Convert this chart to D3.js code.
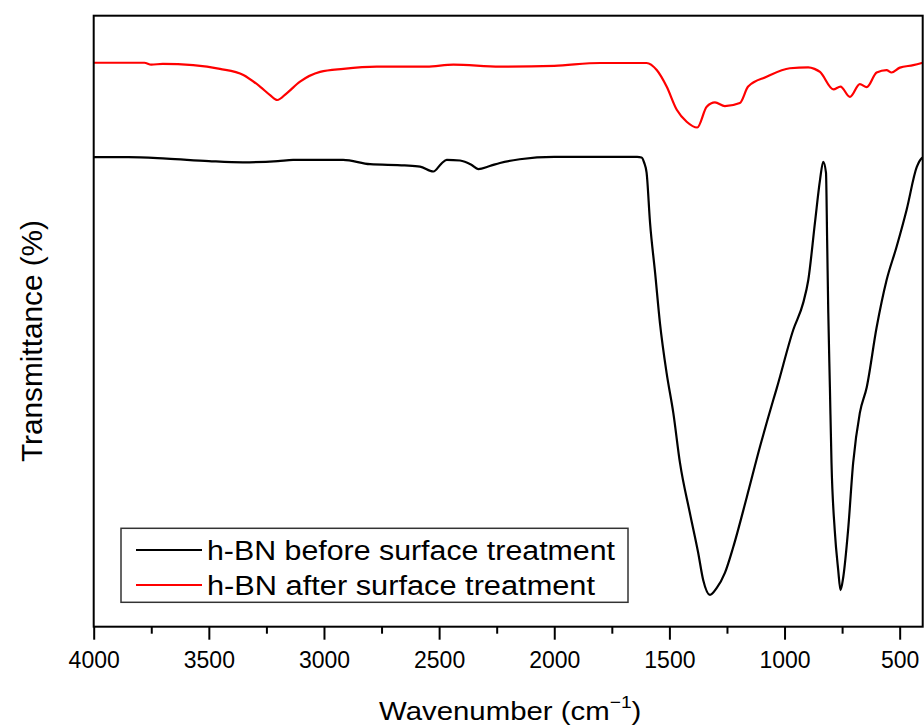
<!DOCTYPE html>
<html><head><meta charset="utf-8">
<script src="https://cdn.jsdelivr.net/npm/d3@7/dist/d3.min.js"></script>
<style>body{margin:0;background:#fff;}svg{display:block;font-family:Arial,"Liberation Sans",sans-serif;}</style>
</head><body>
<script>
// Wavenumber (cm^-1), transmittance (arbitrary %, offset traces)
const beforeWave = [4000,3850,3683,3500,3352,3200,3134,2917,2800,2650,2583,2525,2490,2467,2409,2360,2330,2280,2236,2150,2000,1800,1640,1621,1610,1599,1584,1562,1541,1512,1483,1454,1411,1375,1353,1324,1295,1259,1223,1164,1107,1049,1034,962,919,897,868,846,832,820,815,810,803,796,782,767,757,745,724,702,673,643,600,557,514,470,426,404,400];
const beforeT    = [76.85,76.85,76.6,76.2,76.0,76.2,76.4,76.4,75.7,75.5,75.3,74.5,75.8,76.4,76.3,75.6,74.9,75.4,75.9,76.5,76.9,76.9,76.9,76.8,76.0,74.3,66.1,57.9,49.7,41.5,35.0,26.8,18.6,12.1,7.6,5.2,6.3,8.8,13.0,21.2,29.4,37.1,39.0,48.6,53.0,56.7,66.1,73.1,76.1,74.3,63.3,51.4,39.2,26.8,15.8,9.3,6.0,8.1,15.8,26.8,35.0,39.2,49.0,56.7,62.1,68.2,75.2,76.7,76.8];
const afterWave  = [4000,3780,3750,3700,3568,3452,3350,3278,3234,3203,3162,3104,3017,2916,2771,2554,2438,2236,2000,1800,1599,1555,1512,1468,1425,1379,1338,1302,1259,1194,1158,1078,977,897,870,846,788,757,716,673,643,600,557,535,499,441,400];
const afterT     = [92.3,92.3,92.0,92.1,91.9,91.3,90.3,88.4,87.0,86.2,87.3,89.2,90.8,91.3,91.65,91.65,92.0,91.65,91.8,92.26,92.26,91.1,88.4,84.6,82.65,81.7,85.1,85.8,85.2,85.7,88.4,90.0,91.4,91.55,91.3,90.8,87.95,88.4,86.7,88.8,88.3,90.7,91.1,90.7,91.5,91.9,92.3];
const majorTicks = [4000,3500,3000,2500,2000,1500,1000,500];
const minorTicks = [3750,3250,2750,2250,1750,1250,750];
const seriesNames = ["h-BN before surface treatment","h-BN after surface treatment"];
const seriesColors = ["#000000","#ff0000"];

const W = 924, H = 726;
const L = 93.7, R = 922.7, T = 15.7, B = 626.7;
const svg = d3.select("body").append("svg").attr("width", W).attr("height", H);

const x = d3.scaleLinear().domain([4000, 400]).range([L, R]);
const y = d3.scaleLinear().domain([0, 100]).range([B, T]);

const line = d3.line().x(d => x(d[0])).y(d => y(d[1])).curve(d3.curveMonotoneX);
const series = [
  d3.zip(beforeWave, beforeT),
  d3.zip(afterWave, afterT)
];

svg.append("clipPath").attr("id","c").append("rect")
  .attr("x", L).attr("y", T).attr("width", R - L).attr("height", B - T);

svg.append("g").attr("clip-path","url(#c)").selectAll("path").data(series).join("path")
  .attr("d", line).attr("fill","none")
  .attr("stroke", (d,i) => seriesColors[i]).attr("stroke-width", 2.2)
  .attr("stroke-linejoin","round");

// frame
svg.append("rect").attr("x", L).attr("y", T).attr("width", R - L).attr("height", B - T)
  .attr("fill","none").attr("stroke","#000").attr("stroke-width", 2);

// bottom axis major
const ax = svg.append("g").attr("transform", `translate(0,${B})`)
  .call(d3.axisBottom(x).tickValues(majorTicks).tickSize(13).tickPadding(12).tickFormat(d3.format("d")));
ax.select(".domain").remove();
ax.selectAll(".tick line").attr("stroke","#000").attr("stroke-width",2);
ax.selectAll(".tick text").attr("font-size", 23).attr("fill","#000")
  .attr("font-family","Arial, 'Liberation Sans', sans-serif");
// minor
const axm = svg.append("g").attr("transform", `translate(0,${B})`)
  .call(d3.axisBottom(x).tickValues(minorTicks).tickSize(7).tickFormat(""));
axm.select(".domain").remove();
axm.selectAll(".tick line").attr("stroke","#000").attr("stroke-width",2);

// axis titles
const xt = svg.append("g").attr("transform", `translate(${(L + R) / 2 + 2},720) scale(1.13,1)`)
  .append("text").attr("x", 0).attr("y", 0)
  .attr("text-anchor","middle").attr("font-size", 26).attr("fill","#000");
xt.append("tspan").text("Wavenumber (cm");
xt.append("tspan").attr("dy", -12).attr("font-size", 17).text("\u22121");
xt.append("tspan").attr("dy", 12).text(")");

svg.append("text").attr("transform", `translate(42,341) rotate(-90)`)
  .attr("text-anchor","middle").attr("font-size", 29).attr("fill","#000")
  .attr("textLength", 242).attr("lengthAdjust","spacingAndGlyphs")
  .text("Transmittance (%)");

// legend
const lg = svg.append("g");
lg.append("rect").attr("x", 121).attr("y", 528.3).attr("width", 507).attr("height", 74)
  .attr("fill","#fff").attr("stroke","#333").attr("stroke-width", 1.5);
const lw = [408, 388];
seriesNames.forEach((n, i) => {
  const yy = 550 + i * 35;
  lg.append("line").attr("x1", 136).attr("x2", 202).attr("y1", yy).attr("y2", yy)
    .attr("stroke", seriesColors[i]).attr("stroke-width", 2.2);
  lg.append("text").attr("x", 207).attr("y", yy + 9.5).attr("font-size", 27).attr("fill","#000")
    .attr("textLength", lw[i]).attr("lengthAdjust","spacingAndGlyphs").text(n);
});
</script>
</body></html>
